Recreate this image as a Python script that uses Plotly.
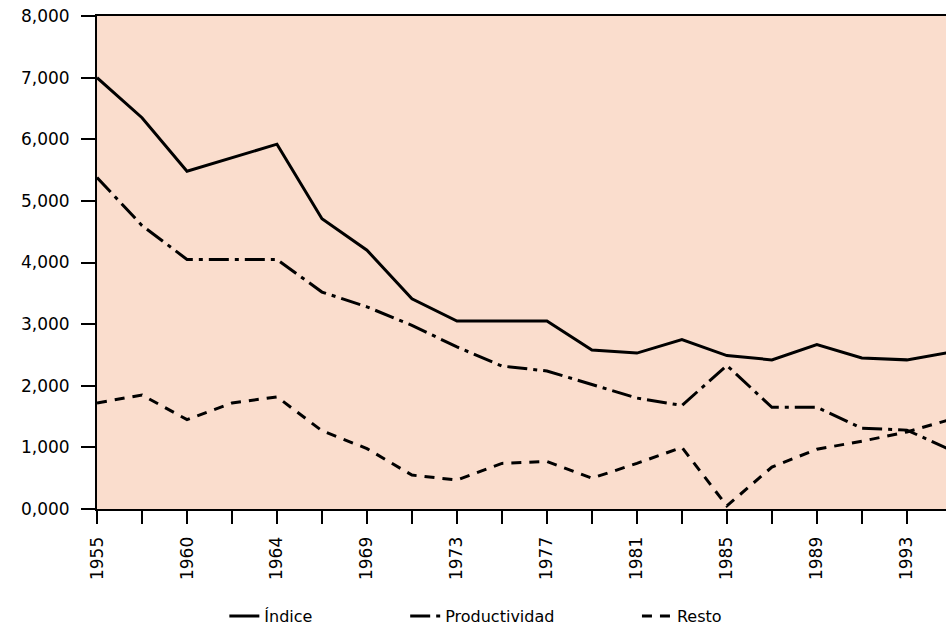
import plotly.graph_objects as go

# Categories (x axis): every tick is a category; only some are labelled
years = ["1955", "1958", "1960", "1962", "1964", "1967", "1969", "1971", "1973", "1975",
         "1977", "1979", "1981", "1983", "1985", "1987", "1989", "1991", "1993", "1995"]
labeled_years = ["1955", "1960", "1964", "1969", "1973", "1977", "1981", "1985", "1989", "1993"]

indice = [7.00, 6.35, 5.48, 5.70, 5.92, 4.71, 4.20, 3.41, 3.05, 3.05,
          3.05, 2.58, 2.53, 2.75, 2.49, 2.42, 2.67, 2.45, 2.42, 2.55]
productividad = [5.38, 4.60, 4.05, 4.05, 4.05, 3.52, 3.28, 2.98, 2.63, 2.32,
                 2.24, 2.02, 1.80, 1.68, 2.33, 1.65, 1.65, 1.31, 1.28, 0.95]
resto = [1.72, 1.85, 1.45, 1.72, 1.82, 1.27, 0.98, 0.55, 0.47, 0.74,
         0.77, 0.50, 0.74, 1.00, 0.05, 0.68, 0.97, 1.10, 1.25, 1.46]

y_ticks = [0, 1, 2, 3, 4, 5, 6, 7, 8]

FONT = "DejaVu Sans"

fig = go.Figure()
fig.add_trace(go.Scatter(x=years, y=indice, name="Índice", mode="lines",
                         line=dict(color="black", width=3), legend="legend"))
fig.add_trace(go.Scatter(x=years, y=productividad, name="Productividad", mode="lines",
                         line=dict(color="black", width=3, dash="20px,6px,4px,6px"),
                         legend="legend2"))
fig.add_trace(go.Scatter(x=years, y=resto, name="Resto", mode="lines",
                         line=dict(color="black", width=3, dash="10px,8px"),
                         legend="legend3"))

ticktext = [y if y in labeled_years else "" for y in years]

leg_common = dict(orientation="h", yanchor="middle", y=-0.217, xanchor="left",
                  bgcolor="rgba(0,0,0,0)", font=dict(family=FONT, size=16, color="black"))

fig.update_layout(
    width=946, height=627,
    margin=dict(l=97, r=0, t=16, b=118, autoexpand=False),
    paper_bgcolor="white",
    plot_bgcolor="#FADDCD",
    separators=",.",
    font=dict(family=FONT, size=17, color="black"),
    showlegend=True,
    legend=dict(x=0.150, **leg_common),
    legend2=dict(x=0.363, **leg_common),
    legend3=dict(x=0.636, **leg_common),
    xaxis=dict(
        type="category", range=[0, 18.87], automargin=False,
        tickmode="array", tickvals=years, ticktext=ticktext,
        tickangle=-90, ticks="outside", ticklen=13, tickwidth=2, tickcolor="black",
        showline=True, linecolor="black", linewidth=2, mirror=True,
        showgrid=False, zeroline=False, ticklabelstandoff=6,
        tickfont=dict(family=FONT, size=17),
    ),
    yaxis=dict(
        range=[0, 8], tickmode="array", tickvals=y_ticks, tickformat=".3f",
        automargin=False,
        ticks="outside", ticklen=14, tickwidth=2, tickcolor="black",
        showline=True, linecolor="black", linewidth=2,
        showgrid=False, zeroline=False, ticklabelstandoff=8,
        tickfont=dict(family=FONT, size=17),
    ),
)

fig.write_html(
    "out.html",
    config={"displayModeBar": False},
    post_script="document.body.style.margin='0px';document.body.style.overflow='hidden';",
)
